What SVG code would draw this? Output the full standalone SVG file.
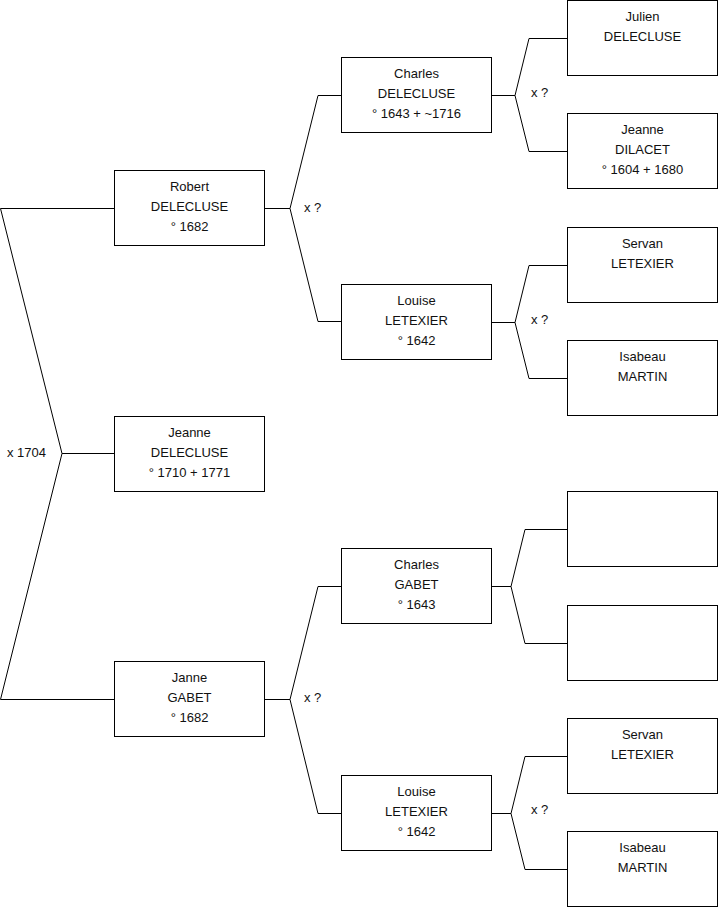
<svg xmlns="http://www.w3.org/2000/svg" width="719" height="908" viewBox="0 0 719 908">
<style>
.box{fill:#fff;stroke:#000;stroke-width:1}
.t{font-family:"Liberation Sans",Arial,sans-serif;font-size:13px;fill:#111;text-anchor:middle}
.l{font-family:"Liberation Sans",Arial,sans-serif;font-size:13px;fill:#111}
.c{fill:none;stroke:#000;stroke-width:1}
</style>
<rect width="719" height="908" fill="#fff"/>
<g id="connectors">
<polyline class="c" points="114,208.5 0.5,208.5 62,453.5 0.5,699.5 114,699.5"/>
<line class="c" x1="62" y1="453.5" x2="114" y2="453.5"/>
<polyline class="c" points="341,95.5 318,95.5 290,208.5 318,321.5 341,321.5"/>
<line class="c" x1="265" y1="208.5" x2="290" y2="208.5"/>
<polyline class="c" points="341,586.5 318,586.5 290,699.5 318,813.5 341,813.5"/>
<line class="c" x1="265" y1="699.5" x2="290" y2="699.5"/>
<polyline class="c" points="567,38.5 529,38.5 515,95.5 529,151.5 567,151.5"/>
<line class="c" x1="492" y1="95.5" x2="515" y2="95.5"/>
<polyline class="c" points="567,265.5 529,265.5 515,322.5 529,378.5 567,378.5"/>
<line class="c" x1="492" y1="322.5" x2="515" y2="322.5"/>
<polyline class="c" points="567,529.5 525,529.5 511,586.5 525,643.5 567,643.5"/>
<line class="c" x1="492" y1="586.5" x2="511" y2="586.5"/>
<polyline class="c" points="567,756.5 525,756.5 511,813.5 525,869.5 567,869.5"/>
<line class="c" x1="492" y1="813.5" x2="511" y2="813.5"/>
<text class="l" x="7" y="457">x 1704</text>
<text class="l" x="304" y="212">x ?</text>
<text class="l" x="304" y="702">x ?</text>
<text class="l" x="531" y="97">x ?</text>
<text class="l" x="531" y="324">x ?</text>
<text class="l" x="531" y="814">x ?</text>
</g>
<g id="robert"><rect class="box" x="114.5" y="170.5" width="150" height="75"/><text class="t" x="189.5" y="191">Robert</text><text class="t" x="189.5" y="211">DELECLUSE</text><text class="t" x="189.5" y="231">° 1682</text></g>
<g id="jeanne"><rect class="box" x="114.5" y="416.5" width="150" height="75"/><text class="t" x="189.5" y="437">Jeanne</text><text class="t" x="189.5" y="457">DELECLUSE</text><text class="t" x="189.5" y="477">° 1710 + 1771</text></g>
<g id="janne"><rect class="box" x="114.5" y="661.5" width="150" height="75"/><text class="t" x="189.5" y="682">Janne</text><text class="t" x="189.5" y="702">GABET</text><text class="t" x="189.5" y="722">° 1682</text></g>
<g id="charles1"><rect class="box" x="341.5" y="57.5" width="150" height="75"/><text class="t" x="416.5" y="78">Charles</text><text class="t" x="416.5" y="98">DELECLUSE</text><text class="t" x="416.5" y="118">° 1643 + ~1716</text></g>
<g id="louise1"><rect class="box" x="341.5" y="284.5" width="150" height="75"/><text class="t" x="416.5" y="305">Louise</text><text class="t" x="416.5" y="325">LETEXIER</text><text class="t" x="416.5" y="345">° 1642</text></g>
<g id="charles2"><rect class="box" x="341.5" y="548.5" width="150" height="75"/><text class="t" x="416.5" y="569">Charles</text><text class="t" x="416.5" y="589">GABET</text><text class="t" x="416.5" y="609">° 1643</text></g>
<g id="louise2"><rect class="box" x="341.5" y="775.5" width="150" height="75"/><text class="t" x="416.5" y="796">Louise</text><text class="t" x="416.5" y="816">LETEXIER</text><text class="t" x="416.5" y="836">° 1642</text></g>
<g id="julien"><rect class="box" x="567.5" y="0.5" width="150" height="75"/><text class="t" x="642.5" y="21">Julien</text><text class="t" x="642.5" y="41">DELECLUSE</text></g>
<g id="jeanne-dilacet"><rect class="box" x="567.5" y="113.5" width="150" height="75"/><text class="t" x="642.5" y="134">Jeanne</text><text class="t" x="642.5" y="154">DILACET</text><text class="t" x="642.5" y="174">° 1604 + 1680</text></g>
<g id="servan1"><rect class="box" x="567.5" y="227.5" width="150" height="75"/><text class="t" x="642.5" y="248">Servan</text><text class="t" x="642.5" y="268">LETEXIER</text></g>
<g id="isabeau1"><rect class="box" x="567.5" y="340.5" width="150" height="75"/><text class="t" x="642.5" y="361">Isabeau</text><text class="t" x="642.5" y="381">MARTIN</text></g>
<g id="empty1"><rect class="box" x="567.5" y="491.5" width="150" height="75"/></g>
<g id="empty2"><rect class="box" x="567.5" y="605.5" width="150" height="75"/></g>
<g id="servan2"><rect class="box" x="567.5" y="718.5" width="150" height="75"/><text class="t" x="642.5" y="739">Servan</text><text class="t" x="642.5" y="759">LETEXIER</text></g>
<g id="isabeau2"><rect class="box" x="567.5" y="831.5" width="150" height="75"/><text class="t" x="642.5" y="852">Isabeau</text><text class="t" x="642.5" y="872">MARTIN</text></g>
</svg>
